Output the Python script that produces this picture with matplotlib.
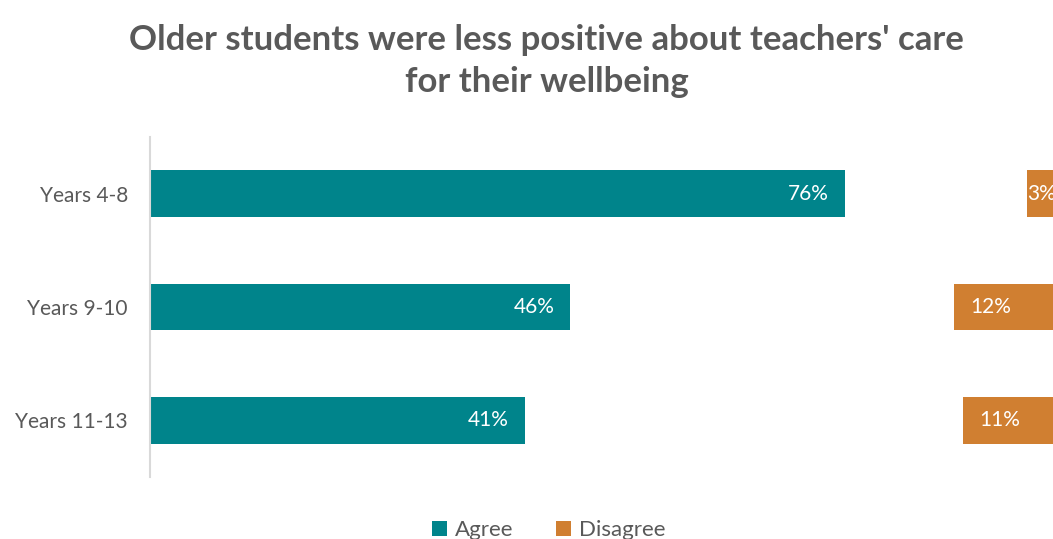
import matplotlib.pyplot as plt
import numpy as np

# survey results by year group (percent of students)
groups = ['Years 4-8', 'Years 9-10', 'Years 11-13']
agree = [76, 46, 41]
neutral = [20, 42, 48]   # not shown, only pushes disagree to the right
disagree = [3, 12, 11]

teal = '#00848B'
orange = '#D07F31'
grey = '#595959'

plt.rcParams['font.family'] = ['Lato', 'DejaVu Sans']

fig = plt.figure(figsize=(10.53, 5.39), dpi=100)
# plot area runs a bit past the right edge, like the original export
ax = fig.add_axes([150 / 1053, 1 - 477 / 539, 914 / 1053, 340 / 539])

y = np.arange(len(groups))
h = 0.41
ax.barh(y, agree, height=h, color=teal, label='Agree')
left_dis = np.array(agree) + np.array(neutral)
ax.barh(y, disagree, left=left_dis, height=h, color=orange, label='Disagree')

for i in range(len(groups)):
    ax.text(agree[i] - 4, y[i], f'{agree[i]}%', color='white', fontsize=15,
            ha='center', va='center')
    ax.text(left_dis[i] + min(disagree[i], 8) / 2, y[i], f'{disagree[i]}%',
            color='white', fontsize=15, ha='center', va='center')

ax.set_xlim(0, 100)
ax.set_ylim(2.5, -0.5)
ax.set_yticks(y)
ax.set_yticklabels(groups, fontsize=15, color=grey)
ax.tick_params(axis='y', length=0, pad=16)
ax.set_xticks([])
for s in ['top', 'right', 'bottom']:
    ax.spines[s].set_visible(False)
ax.spines['left'].set_color('#D9D9D9')
ax.spines['left'].set_linewidth(1.5)

fig.text(0.519, 1 - 61 / 539, "Older students were less positive about teachers' care\nfor their wellbeing",
         ha='center', va='center', fontsize=25, fontweight='bold', color=grey,
         linespacing=1.38)

fig.legend(loc='center', bbox_to_anchor=(549 / 1053, 1 - 530 / 539), ncol=2,
           frameon=False, fontsize=16, labelcolor=grey, handlelength=0.65,
           handleheight=0.65, handletextpad=0.4, columnspacing=1.9)

fig.savefig('out.png', dpi=100)
